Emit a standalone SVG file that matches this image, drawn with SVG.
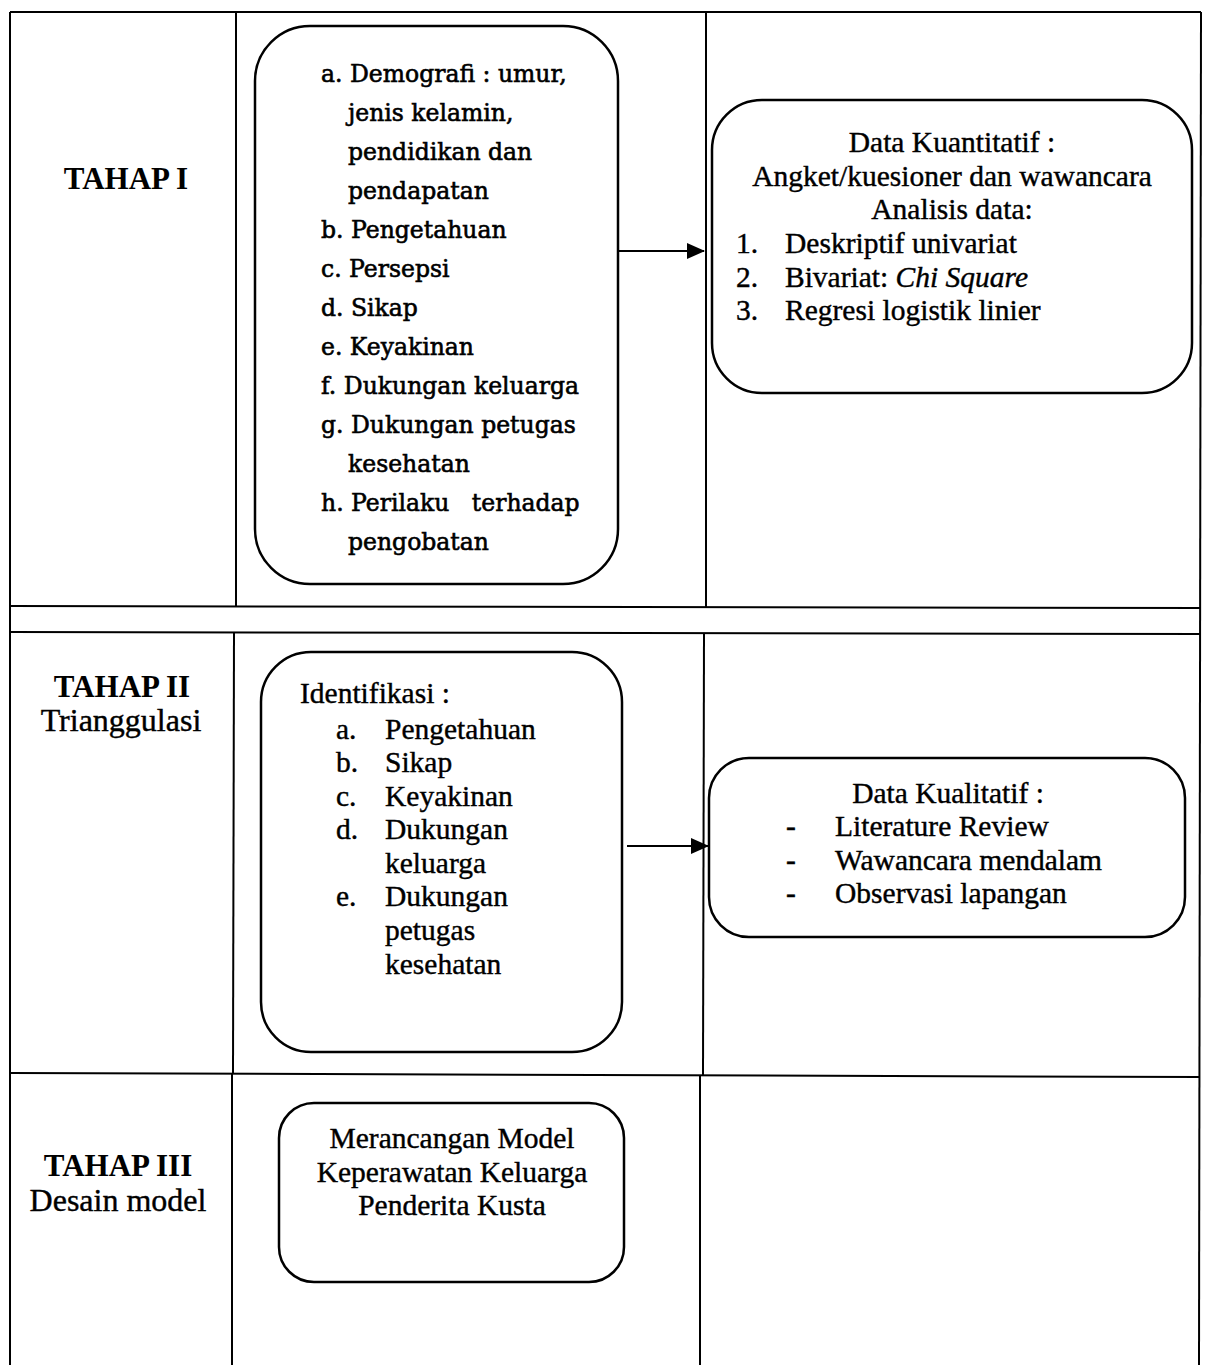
<svg xmlns="http://www.w3.org/2000/svg" width="1208" height="1365" viewBox="0 0 1208 1365">
<defs>
<style>
.grid{stroke:#000;stroke-width:2;fill:none}
.box{stroke:#000;stroke-width:2.5;fill:#fff}
.t{font-family:"Liberation Serif","Times New Roman",serif;font-size:29.5px;fill:#000;stroke:#000;stroke-width:0.4}
.tb{font-family:"Liberation Serif","Times New Roman",serif;font-size:31px;font-weight:bold;fill:#000}
.b1{font-family:"DejaVu Serif","Liberation Serif",serif;font-size:23.5px;fill:#000;stroke:#000;stroke-width:0.6}
.c{text-anchor:middle}
.conn{stroke:#000;stroke-width:2.2;fill:none}
</style>
<marker id="arr" viewBox="0 0 18 16" refX="17" refY="8" markerWidth="18" markerHeight="16" markerUnits="userSpaceOnUse" orient="auto">
<path d="M0,0 L18,8 L0,16 Z" fill="#000"/>
</marker>
</defs>
<rect width="1208" height="1365" fill="#fff"/>
<g id="table">
<line class="grid" x1="10" y1="12" x2="1201" y2="12"/>
<line class="grid" x1="10" y1="12" x2="10" y2="1365"/>
<line class="grid" x1="1201" y1="12" x2="1199" y2="1365"/>
<line class="grid" x1="10" y1="606" x2="1201" y2="608"/>
<line class="grid" x1="10" y1="632" x2="1201" y2="634"/>
<line class="grid" x1="10" y1="1073" x2="1200" y2="1077"/>
<line class="grid" x1="236" y1="12" x2="236" y2="606"/>
<line class="grid" x1="234" y1="632" x2="233" y2="1073"/>
<line class="grid" x1="232" y1="1073" x2="232" y2="1365"/>
<line class="grid" x1="706" y1="12" x2="706" y2="607"/>
<line class="grid" x1="704" y1="633" x2="703" y2="1075"/>
<line class="grid" x1="700" y1="1075" x2="700" y2="1365"/>
</g>
<g id="label1">
<text class="tb c" x="126" y="189">TAHAP I</text>
</g>
<g id="label2">
<text class="tb c" x="122" y="697">TAHAP II</text>
<text class="t c" x="121" y="731" style="font-size:32px">Trianggulasi</text>
</g>
<g id="label3">
<text class="tb c" x="118" y="1176">TAHAP III</text>
<text class="t c" x="118" y="1211" style="font-size:32px">Desain model</text>
</g>
<g id="node-variabel">
<rect class="box" x="255" y="26" width="363" height="558" rx="55" ry="55"/>
<text class="b1" x="321" y="82">a. Demografi : umur,</text>
<text class="b1" x="348" y="121">jenis kelamin,</text>
<text class="b1" x="348" y="160">pendidikan dan</text>
<text class="b1" x="348" y="199">pendapatan</text>
<text class="b1" x="321" y="238">b. Pengetahuan</text>
<text class="b1" x="321" y="277">c. Persepsi</text>
<text class="b1" x="321" y="316">d. Sikap</text>
<text class="b1" x="321" y="355">e. Keyakinan</text>
<text class="b1" x="321" y="394">f. Dukungan keluarga</text>
<text class="b1" x="321" y="433">g. Dukungan petugas</text>
<text class="b1" x="348" y="472">kesehatan</text>
<text class="b1" x="321" y="511" xml:space="preserve">h. Perilaku   terhadap</text>
<text class="b1" x="348" y="550">pengobatan</text>
</g>
<g id="node-kuantitatif">
<rect class="box" x="712" y="100" width="480" height="293" rx="50" ry="50"/>
<text class="t c" x="952" y="152">Data Kuantitatif :</text>
<text class="t c" x="952" y="186">Angket/kuesioner dan wawancara</text>
<text class="t c" x="952" y="219">Analisis data:</text>
<text class="t" x="736" y="253">1.</text>
<text class="t" x="785" y="253">Deskriptif univariat</text>
<text class="t" x="736" y="287">2.</text>
<text class="t" x="785" y="287">Bivariat: <tspan font-style="italic">Chi Square</tspan></text>
<text class="t" x="736" y="320">3.</text>
<text class="t" x="785" y="320">Regresi logistik linier</text>
</g>
<g id="node-identifikasi">
<rect class="box" x="261" y="652" width="361" height="400" rx="50" ry="50"/>
<text class="t" x="300" y="703">Identifikasi :</text>
<text class="t" x="336" y="739">a.</text>
<text class="t" x="385" y="739">Pengetahuan</text>
<text class="t" x="336" y="772">b.</text>
<text class="t" x="385" y="772">Sikap</text>
<text class="t" x="336" y="806">c.</text>
<text class="t" x="385" y="806">Keyakinan</text>
<text class="t" x="336" y="839">d.</text>
<text class="t" x="385" y="839">Dukungan</text>
<text class="t" x="385" y="873">keluarga</text>
<text class="t" x="336" y="906">e.</text>
<text class="t" x="385" y="906">Dukungan</text>
<text class="t" x="385" y="940">petugas</text>
<text class="t" x="385" y="974">kesehatan</text>
</g>
<g id="node-kualitatif">
<rect class="box" x="709" y="758" width="476" height="179" rx="40" ry="40"/>
<text class="t c" x="948" y="803">Data Kualitatif :</text>
<text class="t" x="786" y="836">-</text>
<text class="t" x="835" y="836">Literature Review</text>
<text class="t" x="786" y="870">-</text>
<text class="t" x="835" y="870">Wawancara mendalam</text>
<text class="t" x="786" y="903">-</text>
<text class="t" x="835" y="903">Observasi lapangan</text>
</g>
<g id="node-model">
<rect class="box" x="279" y="1103" width="345" height="179" rx="35" ry="35"/>
<text class="t c" x="452" y="1148">Merancangan Model</text>
<text class="t c" x="452" y="1182">Keperawatan Keluarga</text>
<text class="t c" x="452" y="1215">Penderita Kusta</text>
</g>
<g id="connectors">
<line class="conn" x1="618" y1="251" x2="704" y2="251" marker-end="url(#arr)"/>
<line class="conn" x1="627" y1="846" x2="708" y2="846" marker-end="url(#arr)"/>
</g>
</svg>
